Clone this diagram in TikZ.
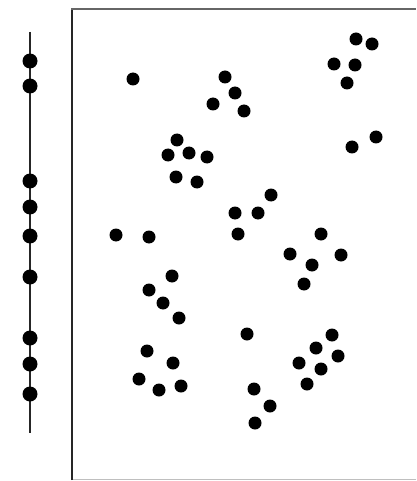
\documentclass[tikz,border=0pt]{standalone}
\begin{document}
\begin{tikzpicture}[x=1pt,y=-1pt,
  dotf/.style={fill=black},
  leftedge/.style={draw=black!85,line width=1.8pt},
  topedge/.style={draw=black!60,line width=2.2pt},
  bottomedge/.style={draw=black!25,line width=1pt},
  axis/.style={draw=black!85,line width=1.6pt}]
\useasboundingbox (0,0) rectangle (416,481);
\fill[white] (0,0) rectangle (416,481);
% frame
\draw[bottomedge] (72,479) -- (416,479);
\draw[leftedge] (72,480) -- (72,8);
\draw[topedge] (71,9) -- (416,9);
% vertical axis
\draw[axis] (30,32) -- (30,433);
\foreach \y in {61,86,181,207,236,277,338,364,394}
  \fill[dotf] (30,\y) circle (7.5);
% field dots
\foreach \p in {(133,79),(177,140),(168,155),(189,153),(207,157),(176,177),(197,182),
  (116,235),(149,237),
  (356,39),(372,44),(334,64),(355,65),(347,83),
  (225,77),(235,93),(213,104),(244,111),
  (376,137),(352,147),
  (271,195),(235,213),(258,213),(238,234),(321,234),
  (172,276),(149,290),(163,303),(179,318),
  (147,351),(173,363),(139,379),(159,390),(181,386),
  (290,254),(341,255),(312,265),(304,284),
  (247,334),(332,335),(316,348),(338,356),(299,363),(321,369),(307,384),
  (254,389),(270,406),(255,423)}
  \fill[dotf] \p circle (6.5);
\end{tikzpicture}
\end{document}
